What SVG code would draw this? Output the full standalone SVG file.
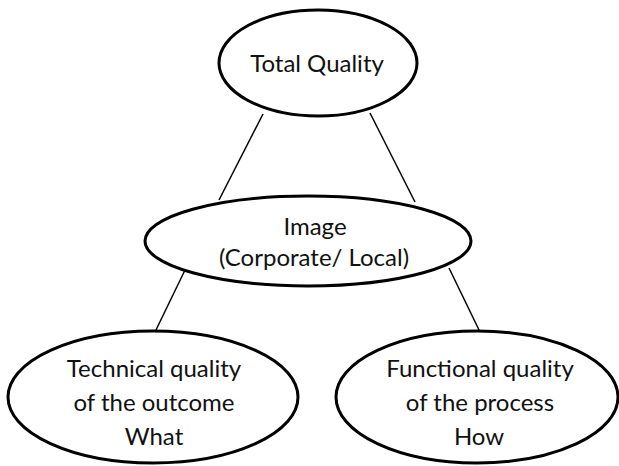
<svg xmlns="http://www.w3.org/2000/svg" width="619" height="466" viewBox="0 0 619 466">
<style>
.node ellipse{fill:#fff;stroke:#000;stroke-width:3}
.node text{font-family:Lato,"Open Sans","Liberation Sans",sans-serif;font-size:24px;fill:#111;text-anchor:middle}
#connectors line{stroke:#000;stroke-width:1.5}
</style>
<rect width="619" height="466" fill="#fff"/>
<g id="connectors">
<line x1="263" y1="114" x2="219" y2="200"/>
<line x1="370" y1="113" x2="415" y2="202"/>
<line x1="186" y1="268" x2="155" y2="332"/>
<line x1="449" y1="268" x2="480" y2="332"/>
</g>
<g id="total" class="node">
<ellipse cx="318" cy="63" rx="99" ry="53"/>
<text x="317" y="72">Total Quality</text>
</g>
<g id="image" class="node">
<ellipse cx="308" cy="241" rx="163" ry="45"/>
<text x="315" y="235">Image</text>
<text x="314" y="266">(Corporate/ Local)</text>
</g>
<g id="technical" class="node">
<ellipse cx="153" cy="397" rx="145" ry="66"/>
<text x="154" y="377">Technical quality</text>
<text x="154" y="411">of the outcome</text>
<text x="154" y="445">What</text>
</g>
<g id="functional" class="node">
<ellipse cx="477" cy="397" rx="141" ry="66"/>
<text x="480" y="377">Functional quality</text>
<text x="480" y="411">of the process</text>
<text x="479" y="445">How</text>
</g>
</svg>
